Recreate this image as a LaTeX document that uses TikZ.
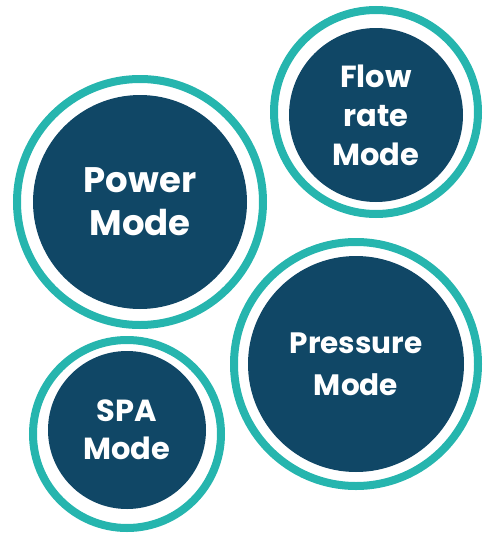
\documentclass[tikz,border=0pt]{standalone}
\usepackage{fontspec}
\setmainfont{Poppins}
\definecolor{teal}{HTML}{26B5AE}
\definecolor{navy}{HTML}{104766}
\begin{document}
\begin{tikzpicture}[x=1pt,y=-1pt,
  ring/.style={circle, draw=teal, line width=8pt, inner sep=0pt, minimum size=#1},
  disc/.style={circle, fill=navy, text=white, inner sep=0pt, minimum size=#1, align=center, font=\bfseries},
]
\useasboundingbox (0,0) rectangle (483,533);
% Power
\node[ring=246pt] (powerring) at (140,202) {};
\node[disc=214pt, font=\bfseries\fontsize{35.5}{43}\selectfont] (power) at (140,202) {Power\\Mode};
% Flow rate
\node[ring=204pt] (flowring) at (376,112) {};
\node[disc=174pt, font=\bfseries\fontsize{30.5}{39}\selectfont] (flow) at (376,115) {Flow\\rate\\Mode};
% Pressure
\node[ring=244pt] (pressring) at (356,364) {};
\node[disc=216pt, font=\bfseries\fontsize{29.5}{42}\selectfont] (press) at (356,364) {Pressure\\Mode};
% SPA
\node[ring=188pt] (sparing) at (127,434) {};
\node[disc=158pt, font=\bfseries\fontsize{30.5}{38}\selectfont] (spa) at (127,430) {SPA\\Mode};
\end{tikzpicture}
\end{document}
